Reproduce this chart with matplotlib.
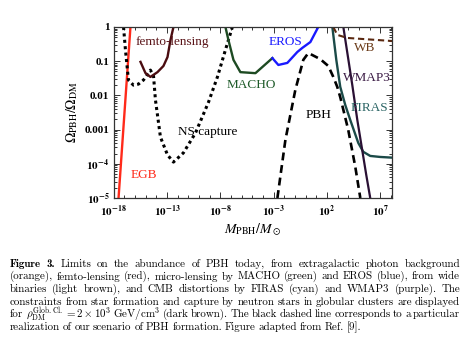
import re
import numpy as np
import matplotlib
matplotlib.use('Agg')
import matplotlib.pyplot as plt
from matplotlib.ticker import FixedLocator, FixedFormatter, LogLocator, NullFormatter

plt.rcParams['font.family'] = 'Liberation Serif'
plt.rcParams['mathtext.fontset'] = 'stix'

# curves, as log10(M/Msun) and log10(Omega_PBH/Omega_DM)
egb_m = [-17.55, -16.4]
egb_f = [-5.1, 0.05]

femto_m = [-15.47, -15.0, -14.54, -13.88, -13.32, -12.94, -12.66, -12.38]
femto_f = [-1.02, -1.35, -1.46, -1.32, -1.14, -0.88, -0.38, 0.0]

ns_m = [-17.06, -16.88, -16.6, -16.13, -15.66, -15.19, -14.54, -14.25, -14.07,
        -13.6, -12.94, -12.38, -11.45, -10.32, -9.1, -8.26, -7.51, -6.86]
ns_f = [0.0, -0.67, -1.55, -1.7, -1.67, -1.55, -1.26, -1.43, -2.13,
        -3.22, -3.74, -3.95, -3.68, -3.1, -2.2, -1.46, -0.67, 0.0]

macho_m = [-7.51, -7.23, -6.76, -6.11, -4.7, -3.11]
macho_f = [0.0, -0.38, -0.96, -1.32, -1.35, -0.91]

eros_m = [-3.11, -2.55, -1.71, -0.77, -0.3, 0.45, 1.19]
eros_f = [-0.91, -1.11, -1.05, -0.73, -0.61, -0.44, 0.0]

pbh_m = [-2.64, -1.89, -0.96, -0.21, 0.26, 1.38, 2.13, 2.6, 2.97, 3.25, 4.0, 4.66, 5.13]
pbh_f = [-5.0, -3.3, -1.84, -0.96, -0.76, -0.94, -1.14, -1.46, -1.75, -2.05, -3.01, -4.09, -5.0]

firas_m = [2.51, 2.88, 3.25, 3.72, 4.19, 4.94, 5.41, 6.06, 7.0, 8.12]
firas_f = [0.0, -0.96, -1.75, -2.28, -2.72, -3.39, -3.65, -3.77, -3.8, -3.82]

wmap_m = [3.54, 4.38, 4.85, 5.31, 5.69, 6.06]
wmap_f = [0.0, -1.7, -2.72, -3.6, -4.33, -5.0]

wb_m = [2.6, 2.97, 3.91, 8.12]
wb_f = [0.0, -0.23, -0.32, -0.41]

xticks = [1e-18, 1e-13, 1e-8, 1e-3, 1e2, 1e7]
xticklabels = [r'$\mathbf{10^{-18}}$', r'$\mathbf{10^{-13}}$', r'$\mathbf{10^{-8}}$',
               r'$\mathbf{10^{-3}}$', r'$\mathbf{10^{2}}$', r'$\mathbf{10^{7}}$']
yticks = [1e-5, 1e-4, 1e-3, 1e-2, 1e-1, 1]
yticklabels = [r'$\mathbf{10^{-5}}$', r'$\mathbf{10^{-4}}$', '0.001', '0.01', '0.1', '1']

caption = [
    r"Figure 3.  Limits on the abundance of PBH today, from extragalactic photon background",
    r"(orange), femto-lensing (red), micro-lensing by MACHO (green) and EROS (blue), from wide",
    r"binaries (light brown), and CMB distortions by FIRAS (cyan) and WMAP3 (purple).  The",
    r"constraints from star formation and capture by neutron stars in globular clusters are displayed",
    r"for $\rho_{\rm DM}^{\rm Glob.Cl.} = 2\times10^3$ GeV/cm$^3$ (dark brown).  The black dashed line corresponds to a particular",
    r"realization of our scenario of PBH formation.  Figure adapted from Ref. [9].",
]

W, H = 470, 353
fig = plt.figure(figsize=(4.7, 3.53), dpi=100)
ax = fig.add_axes([113.5 / W, 1 - 198 / H, (392 - 113.5) / W, 171 / H])


def p(m, f):
    return 10 ** np.array(m), 10 ** np.array(f)


ax.plot(*p(egb_m, egb_f), color='#ff2a1a', lw=1.7)
ax.plot(*p(ns_m, ns_f), color='black', lw=2.2, ls=(0, (1, 1.1)))
ax.plot(*p(femto_m, femto_f), color='#4a0c10', lw=1.7)
ax.plot(*p(macho_m, macho_f), color='#1d4a22', lw=1.7)
ax.plot(*p(eros_m, eros_f), color='#1a1aff', lw=1.7)
ax.plot(*p(pbh_m, pbh_f), color='black', lw=1.9, ls=(0, (3, 1.8)))
ax.plot(*p(firas_m, firas_f), color='#1b4a48', lw=1.7)
ax.plot(*p(wmap_m, wmap_f), color='#2a1034', lw=1.6)
ax.plot(*p(wb_m, wb_f), color='#5a2810', lw=1.5, ls=(0, (3, 1.8)))

ax.set_xscale('log')
ax.set_yscale('log')
ax.set_xlim(1e-18, 10 ** 8.1)
ax.set_ylim(1e-5, 1)

ax.xaxis.set_major_locator(FixedLocator(xticks))
ax.xaxis.set_major_formatter(FixedFormatter(xticklabels))
ax.xaxis.set_minor_locator(LogLocator(base=10, subs=(1.0,), numticks=100))
ax.xaxis.set_minor_formatter(NullFormatter())
ax.yaxis.set_major_locator(FixedLocator(yticks))
ax.yaxis.set_major_formatter(FixedFormatter(yticklabels))
ax.yaxis.set_minor_locator(LogLocator(base=10, subs=np.arange(2, 10), numticks=100))
ax.yaxis.set_minor_formatter(NullFormatter())
ax.tick_params(which='both', direction='in', top=True, right=True, color='#333333', width=0.7)
ax.tick_params(which='major', length=4, labelsize=8)
ax.tick_params(axis='x', which='major', pad=4)
ax.tick_params(axis='y', which='major', pad=3)
ax.tick_params(which='minor', length=2)
for lbl in ax.get_xticklabels() + ax.get_yticklabels():
    lbl.set_fontweight('bold')
for s in ax.spines.values():
    s.set_color('#333333')
    s.set_linewidth(0.9)

ax.set_xlabel(r'$M_{\rm PBH}/M_\odot$', fontsize=10, labelpad=2)
ax.set_ylabel(r'$\Omega_{\rm PBH}/\Omega_{\rm DM}$', fontsize=10, labelpad=3)

lab = dict(fontsize=9.5, ha='center', va='center')
ax.text(10 ** -12.48, 10 ** -0.44, 'femto-lensing', color='#5a1418', **lab)
ax.text(10 ** -1.89, 10 ** -0.44, 'EROS', color='#1a1aff', **lab)
ax.text(10 ** -5.08, 10 ** -1.7, 'MACHO', color='#1d5a28', **lab)
ax.text(10 ** 5.5, 10 ** -0.61, 'WB', color='#6a3a18', **lab)
ax.text(10 ** 5.78, 10 ** -1.49, 'WMAP3', color='#3a1a44', **lab)
ax.text(10 ** 5.97, 10 ** -2.37, 'FIRAS', color='#2a6464', **lab)
ax.text(10 ** 1.19, 10 ** -2.57, 'PBH', color='black', **lab)
ax.text(10 ** -9.2, 10 ** -3.07, 'NS capture', color='black', **lab)
ax.text(10 ** -15.19, 10 ** -4.33, 'EGB', color='#ff2a1a', **lab)

# justified caption below the plot
fig.canvas.draw()
r = fig.canvas.get_renderer()
left, right = 10, 460
fs = 7.9
for i, line in enumerate(caption):
    y = 1 - (264 + 12.6 * i) / H
    words = re.findall(r'\$[^$]*\$\S*|\S+', line)
    items = []
    for j, w in enumerate(words):
        fam = 'cmb10' if (i == 0 and j < 2) else 'cmr10'
        t = fig.text(0, y, w, fontsize=fs, family=fam, math_fontfamily='cm', va='center')
        items.append((t, t.get_window_extent(r).width))
    total = sum(wd for _, wd in items)
    if i < len(caption) - 1:
        gap = (right - left - total) / (len(items) - 1)
        if gap < 1.5:
            # line too long for the width: shrink it a little
            k = (right - left - 1.5 * (len(items) - 1)) / total
            for t, _ in items:
                t.set_fontsize(fs * k)
            items = [(t, wd * k) for t, wd in items]
            gap = 1.5
    else:
        gap = fs * 0.35
    x = left
    for t, wd in items:
        t.set_x(x / W)
        x += wd + gap

fig.savefig('out.png', dpi=100)
